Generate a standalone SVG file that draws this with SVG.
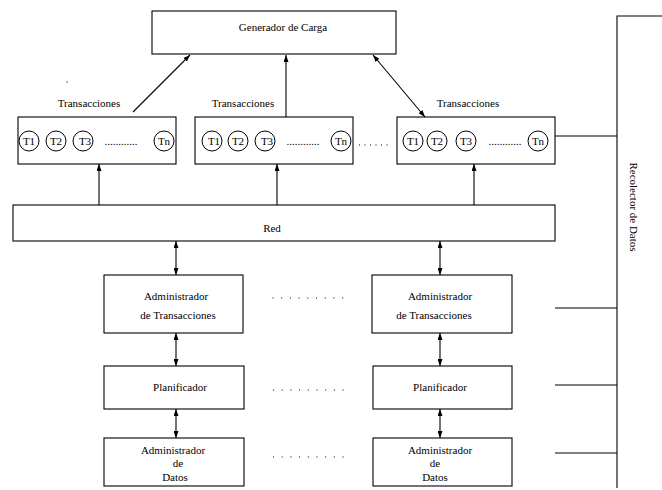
<svg xmlns="http://www.w3.org/2000/svg" width="662" height="490" viewBox="0 0 662 490" font-family="'Liberation Serif', 'DejaVu Serif', serif">
<style>
text{font-family:'Liberation Serif','DejaVu Serif',serif;font-size:11px;fill:#000;text-anchor:middle}
.box{fill:#fff;stroke:#000;stroke-width:1.1}
.c{fill:none;stroke:#000;stroke-width:1}
.ln{fill:none;stroke:#000;stroke-width:1.1}
.dots{stroke:#000;stroke-width:1;stroke-dasharray:1 7.7;fill:none}
.dots2{stroke:#000;stroke-width:1;stroke-dasharray:1 4.5;fill:none}
</style>
<defs>
<marker id="ah" viewBox="0 0 7 5" refX="7" refY="2.5" markerWidth="7" markerHeight="5" markerUnits="userSpaceOnUse" orient="auto-start-reverse">
<path d="M0,0 L7,2.5 L0,5 z" fill="#000"/>
</marker>
</defs>
<rect x="66.5" y="81.5" width="1.2" height="1" fill="#000"/>
<g id="generador">
<rect class="box" x="152" y="11" width="244" height="43"/>
<text x="283" y="31">Generador de Carga</text>
</g>
<g id="trans1">
<text x="89" y="107">Transacciones</text>
<rect class="box" x="18" y="117" width="158" height="47"/>
<circle class="c" cx="29" cy="141" r="10"/><text x="29" y="145">T1</text>
<circle class="c" cx="56" cy="141" r="10"/><text x="56" y="145">T2</text>
<circle class="c" cx="83" cy="141" r="10"/><text x="85" y="145">T3</text>
<text x="121" y="145">............</text>
<circle class="c" cx="164" cy="141" r="10"/><text x="164" y="145">Tn</text>
</g>
<g id="trans2">
<text x="243" y="107">Transacciones</text>
<rect class="box" x="195" y="117" width="158" height="47"/>
<circle class="c" cx="212" cy="141" r="10"/><text x="214" y="145">T1</text>
<circle class="c" cx="238" cy="141" r="10"/><text x="238" y="145">T2</text>
<circle class="c" cx="265" cy="141" r="10"/><text x="267" y="145">T3</text>
<text x="303" y="145">............</text>
<circle class="c" cx="341" cy="141" r="10"/><text x="341" y="145">Tn</text>
</g>
<line class="dots2" x1="359" y1="145" x2="389" y2="145"/>
<g id="trans3">
<text x="468" y="107">Transacciones</text>
<rect class="box" x="397" y="117" width="158" height="47"/>
<circle class="c" cx="413" cy="141" r="10"/><text x="413" y="145">T1</text>
<circle class="c" cx="437" cy="141" r="10"/><text x="437" y="145">T2</text>
<circle class="c" cx="466" cy="141" r="10"/><text x="466" y="145">T3</text>
<text x="505" y="145">............</text>
<circle class="c" cx="538" cy="141" r="10"/><text x="538" y="145">Tn</text>
</g>
<g id="red">
<rect class="box" x="13" y="205" width="542" height="36"/>
<text x="272" y="232">Red</text>
</g>
<g id="admtrans1">
<rect class="box" x="104" y="275" width="139" height="58"/>
<text x="176" y="300">Administrador</text>
<text x="178" y="319">de Transacciones</text>
</g>
<g id="admtrans2">
<rect class="box" x="372" y="275" width="140" height="58"/>
<text x="440" y="300">Administrador</text>
<text x="434" y="319">de Transacciones</text>
</g>
<g id="plan1">
<rect class="box" x="104" y="366" width="140" height="43"/>
<text x="180" y="391">Planificador</text>
</g>
<g id="plan2">
<rect class="box" x="373" y="366" width="139" height="43"/>
<text x="440" y="391">Planificador</text>
</g>
<g id="admdatos1">
<rect class="box" x="104" y="438" width="140" height="48"/>
<text x="173" y="454">Administrador</text>
<text x="178" y="467">de</text>
<text x="175" y="481">Datos</text>
</g>
<g id="admdatos2">
<rect class="box" x="373" y="438" width="139" height="48"/>
<text x="440" y="454">Administrador</text>
<text x="435" y="467">de</text>
<text x="435" y="481">Datos</text>
</g>
<g id="recolector">
<path class="ln" d="M662,16 H617 V488"/>
<text transform="translate(630,207) rotate(90)" x="0" y="0">Recolector de Datos</text>
</g>
<g id="dotsrows">
<line class="dots" x1="272.5" y1="298" x2="348" y2="298"/>
<line class="dots" x1="273" y1="390" x2="348" y2="390"/>
<line class="dots" x1="273" y1="457" x2="348" y2="457"/>
</g>
<g id="connectors">
<line class="ln" x1="133" y1="112" x2="190" y2="55" marker-end="url(#ah)"/>
<line class="ln" x1="286" y1="117" x2="286" y2="55" marker-end="url(#ah)"/>
<line class="ln" x1="425" y1="117" x2="373" y2="55" marker-start="url(#ah)" marker-end="url(#ah)"/>
<line class="ln" x1="99" y1="205" x2="99" y2="164" marker-end="url(#ah)"/>
<line class="ln" x1="277" y1="205" x2="277" y2="164" marker-end="url(#ah)"/>
<line class="ln" x1="474" y1="205" x2="474" y2="164" marker-end="url(#ah)"/>
<line class="ln" x1="176" y1="241" x2="176" y2="275" marker-start="url(#ah)" marker-end="url(#ah)"/>
<line class="ln" x1="440" y1="241" x2="440" y2="275" marker-start="url(#ah)" marker-end="url(#ah)"/>
<line class="ln" x1="176" y1="333" x2="176" y2="366" marker-start="url(#ah)" marker-end="url(#ah)"/>
<line class="ln" x1="440" y1="333" x2="440" y2="366" marker-start="url(#ah)" marker-end="url(#ah)"/>
<line class="ln" x1="176" y1="409" x2="176" y2="438" marker-start="url(#ah)" marker-end="url(#ah)"/>
<line class="ln" x1="440" y1="409" x2="440" y2="438" marker-start="url(#ah)" marker-end="url(#ah)"/>
<line class="ln" x1="555" y1="136" x2="617" y2="136"/>
<line class="ln" x1="555" y1="308" x2="617" y2="308"/>
<line class="ln" x1="555" y1="385" x2="617" y2="385"/>
<line class="ln" x1="555" y1="453" x2="617" y2="453"/>
</g>
</svg>
